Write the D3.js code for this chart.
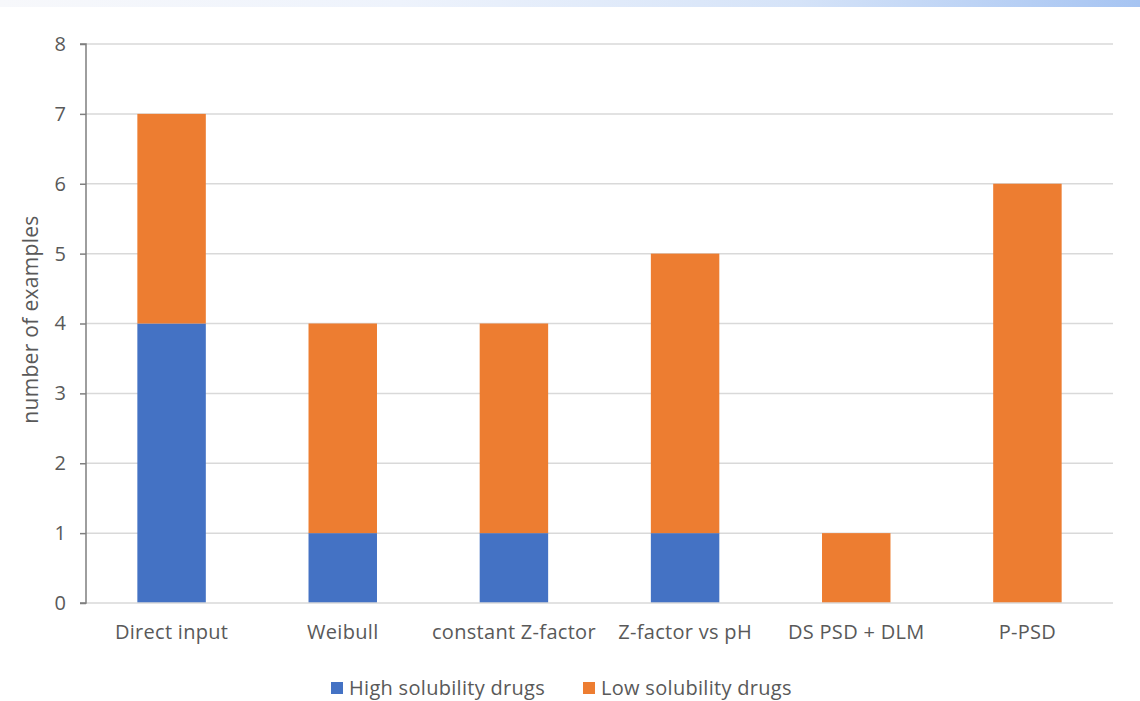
<!DOCTYPE html>
<html>
<head>
<meta charset="utf-8">
<script src="https://cdn.jsdelivr.net/npm/d3@7"></script>
<style>
  html, body { margin: 0; padding: 0; background: #ffffff; }
  svg { display: block; }
</style>
</head>
<body>
<svg id="chart" width="1140" height="701"></svg>
<script>
// Method categories along the x axis
const categories = ["Direct input", "Weibull", "constant Z-factor", "Z-factor vs pH", "DS PSD + DLM", "P-PSD"];
// Stacked series values (number of examples)
const highSolubility = [4, 1, 1, 1, 0, 0];
const lowSolubility = [3, 3, 3, 4, 1, 6];
const seriesNames = ["High solubility drugs", "Low solubility drugs"];
const yTicks = [0, 1, 2, 3, 4, 5, 6, 7, 8];

const colors = ["#4472C4", "#ED7D31"];
const font = "'Open Sans', 'Liberation Sans', sans-serif";
const textColor = "#595959";

const svg = d3.select("#chart");
const W = 1140, H = 701;

// Thin decorative gradient band along the top edge
const defs = svg.append("defs");
const grad = defs.append("linearGradient").attr("id", "topband").attr("x1", "0").attr("x2", "1");
grad.append("stop").attr("offset", "0").attr("stop-color", "#f7f8fb");
grad.append("stop").attr("offset", "0.35").attr("stop-color", "#eef3fc");
grad.append("stop").attr("offset", "0.7").attr("stop-color", "#d5e3f8");
grad.append("stop").attr("offset", "1").attr("stop-color", "#a6c4f2");
svg.append("rect").attr("x", 0).attr("y", 0).attr("width", W).attr("height", 7).attr("fill", "url(#topband)");

const margin = { left: 86, right: 27, top: 44, bottom: 98 };
const plotW = W - margin.left - margin.right;
const plotH = H - margin.top - margin.bottom;

const g = svg.append("g").attr("transform", `translate(${margin.left},${margin.top})`);

const x = d3.scaleBand().domain(categories).range([0, plotW]).paddingInner(0.6).paddingOuter(0.3);
const y = d3.scaleLinear().domain([0, 8]).range([plotH, 0]);

// Horizontal gridlines
g.append("g").selectAll("line").data(yTicks.filter(d => d > 0)).join("line")
  .attr("x1", 0).attr("x2", plotW)
  .attr("y1", d => y(d)).attr("y2", d => y(d))
  .attr("stroke", "#d9d9d9").attr("stroke-width", 1.5);

// Stacked bars
const rows = categories.map((c, i) => ({ cat: c, high: highSolubility[i], low: lowSolubility[i] }));
const stack = d3.stack().keys(["high", "low"])(rows);

g.append("g").selectAll("g").data(stack).join("g")
  .attr("fill", (d, i) => colors[i])
  .selectAll("rect").data(d => d).join("rect")
  .attr("x", d => x(d.data.cat))
  .attr("width", x.bandwidth())
  .attr("y", d => y(d[1]))
  .attr("height", d => y(d[0]) - y(d[1]));

// Bottom baseline
g.append("line").attr("x1", 0).attr("x2", plotW).attr("y1", y(0)).attr("y2", y(0))
  .attr("stroke", "#d9d9d9").attr("stroke-width", 1.5);

// Y axis
const yAxis = g.append("g").call(d3.axisLeft(y).tickValues(yTicks).tickSize(6).tickPadding(14).tickFormat(d3.format("d")));
yAxis.select(".domain").attr("stroke", "#7f7f7f").attr("stroke-width", 1.5).attr("d", `M-6,${y(8)}H0V${y(0)}H-6`);
yAxis.selectAll(".tick line").attr("stroke", "#7f7f7f").attr("stroke-width", 1.5);
yAxis.selectAll("text").attr("fill", textColor).style("font-family", font).style("font-size", "20px");

// X axis labels
const xAxis = g.append("g").attr("transform", `translate(0,${plotH})`)
  .call(d3.axisBottom(x).tickSize(0).tickPadding(22));
xAxis.select(".domain").remove();
xAxis.selectAll("text").attr("fill", textColor).style("font-family", font)
  .style("font-size", "20px").style("letter-spacing", "0.3px");

// Y axis title
svg.append("text")
  .attr("transform", `translate(38,${margin.top + plotH / 2 - 4}) rotate(-90)`)
  .attr("text-anchor", "middle")
  .attr("fill", textColor)
  .style("font-family", font).style("font-size", "21px").style("letter-spacing", "0.3px")
  .text("number of examples");

// Legend
const legendX = [331, 583];
const legend = svg.append("g").selectAll("g").data(seriesNames).join("g")
  .attr("transform", (d, i) => `translate(${legendX[i]},688)`);
legend.append("rect").attr("x", 0).attr("y", -6).attr("width", 12).attr("height", 12)
  .attr("fill", (d, i) => colors[i]);
legend.append("text").attr("x", 18).attr("y", 0).attr("dy", "0.35em")
  .attr("fill", textColor).style("font-family", font)
  .style("font-size", "20px").style("letter-spacing", "0.3px")
  .text(d => d);
</script>
</body>
</html>
